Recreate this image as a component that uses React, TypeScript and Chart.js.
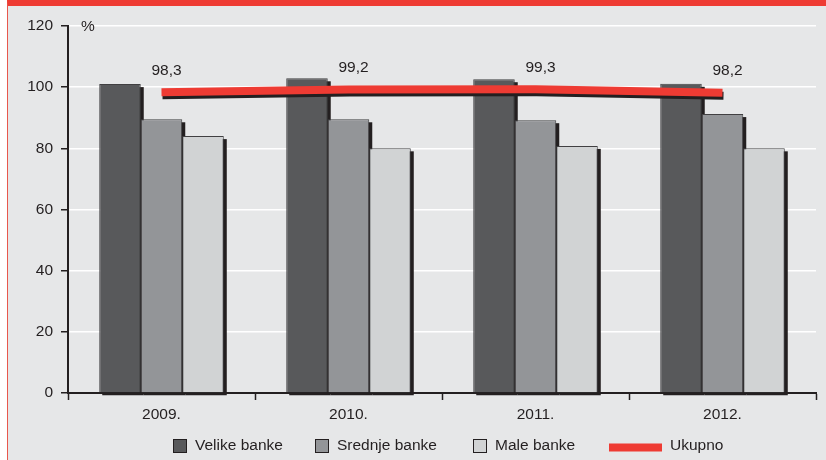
import React, { useEffect, useRef } from "react";
import { Chart, registerables } from "chart.js";

Chart.register(...registerables);

const categories = ["2009.", "2010.", "2011.", "2012."];
const velikeBanke = [101.0, 102.9, 102.6, 101.1];
const srednjeBanke = [89.5, 89.5, 89.2, 91.2];
const maleBanke = [84.0, 80.0, 80.8, 80.0];
const ukupno = [98.3, 99.2, 99.3, 98.2];
const seriesNames = ["Velike banke", "Srednje banke", "Male banke", "Ukupno"];
const yUnit = "%";

const FONT = "Liberation Sans, Arial, sans-serif";
const TXT = "#231f20";
const C_VELIKE = "#58595b";
const C_SREDNJE = "#939598";
const C_MALE = "#d1d3d4";
const C_RED = "#ee3b33";
const BORDER = "#414042";
const LEGEND_X = [173, 315, 473, 609];

const decorPlugin = {
  id: "decor",
  beforeDatasetsDraw(chart: any) {
    const ctx = chart.ctx;
    ctx.save();
    ctx.fillStyle = TXT;
    chart.data.datasets.forEach((ds: any, i: number) => {
      if (ds.type === "line") return;
      const meta = chart.getDatasetMeta(i);
      meta.data.forEach((el: any) => {
        const w = el.width;
        ctx.fillRect(el.x - w / 2 + 3, el.y + 3, w, el.base - el.y);
      });
    });
    ctx.restore();
  },
  beforeDatasetDraw(chart: any, args: any) {
    const ds = chart.data.datasets[args.index];
    if (ds.type === "line") {
      const ctx = chart.ctx;
      ctx.save();
      ctx.shadowColor = TXT;
      ctx.shadowOffsetX = 1;
      ctx.shadowOffsetY = 3;
      ctx.shadowBlur = 0;
    }
  },
  afterDatasetDraw(chart: any, args: any) {
    const ds = chart.data.datasets[args.index];
    if (ds.type === "line") {
      chart.ctx.restore();
    }
  },
  afterDraw(chart: any) {
    const ctx = chart.ctx;
    ctx.save();
    ctx.font = `15.5px ${FONT}`;
    ctx.fillStyle = TXT;
    ctx.textBaseline = "middle";
    const li = chart.data.datasets.findIndex((d: any) => d.type === "line");
    const lmeta = chart.getDatasetMeta(li);
    ctx.textAlign = "center";
    lmeta.data.forEach((pt: any, j: number) => {
      const v = chart.data.datasets[li].data[j];
      ctx.fillText(v.toFixed(1).replace(".", ","), pt.x + 5, pt.y - 22);
    });
    ctx.textAlign = "left";
    ctx.fillText(yUnit, chart.chartArea.left + 13, chart.chartArea.top + 1);
    const colors = [C_VELIKE, C_SREDNJE, C_MALE];
    const yc = 446;
    seriesNames.forEach((name, i) => {
      let x = LEGEND_X[i];
      if (i < 3) {
        ctx.fillStyle = colors[i];
        ctx.fillRect(x, yc - 7, 14, 14);
        ctx.strokeStyle = TXT;
        ctx.lineWidth = 1;
        ctx.strokeRect(x + 0.5, yc - 6.5, 13, 13);
        x += 14 + 8;
      } else {
        ctx.fillStyle = C_RED;
        ctx.fillRect(x, yc - 2.5, 53, 8);
        x += 53 + 8;
      }
      ctx.fillStyle = TXT;
      ctx.fillText(name, x, yc);
    });
    ctx.restore();
  },
};

export default function App() {
  const ref = useRef<HTMLCanvasElement | null>(null);
  useEffect(() => {
    if (!ref.current) return;
    const barCommon = {
      borderColor: BORDER,
      borderWidth: 1,
      categoryPercentage: 0.666,
      barPercentage: 1,
      clip: false,
    };
    const chart = new Chart(ref.current, {
      type: "bar",
      data: {
        labels: categories,
        datasets: [
          { type: "bar", label: seriesNames[0], data: velikeBanke, backgroundColor: C_VELIKE, ...barCommon } as any,
          { type: "bar", label: seriesNames[1], data: srednjeBanke, backgroundColor: C_SREDNJE, ...barCommon } as any,
          { type: "bar", label: seriesNames[2], data: maleBanke, backgroundColor: C_MALE, ...barCommon } as any,
          {
            type: "line",
            label: seriesNames[3],
            data: ukupno,
            borderColor: C_RED,
            backgroundColor: C_RED,
            borderWidth: 8,
            borderCapStyle: "butt",
            pointRadius: 0,
            tension: 0,
            order: -1,
            clip: false,
          } as any,
        ],
      },
      options: {
        responsive: false,
        animation: false,
        devicePixelRatio: 1,
        layout: { padding: { top: 26, right: 10, left: 0, bottom: 0 } },
        plugins: { legend: { display: false }, tooltip: { enabled: false } },
        scales: {
          x: {
            offset: true,
            grid: {
              display: true,
              drawOnChartArea: false,
              drawTicks: true,
              tickLength: 7,
              tickColor: TXT,
              tickWidth: 1.5,
              offset: true,
            },
            border: { display: true, color: TXT, width: 2 },
            ticks: { color: TXT, font: { family: FONT, size: 15.5 }, padding: 5 },
            afterFit: (s: any) => {
              s.height = 67;
            },
          },
          y: {
            min: 0,
            max: 120,
            ticks: { stepSize: 20, color: TXT, font: { family: FONT, size: 15.5 }, padding: 8 },
            grid: {
              color: "#ffffff",
              lineWidth: 1.5,
              drawTicks: true,
              tickLength: 7,
              tickColor: TXT,
              tickWidth: 1.5,
            },
            border: { display: true, color: TXT, width: 2 },
            afterFit: (s: any) => {
              s.width = 68;
            },
          },
        },
      } as any,
      plugins: [decorPlugin],
    });
    return () => chart.destroy();
  }, []);

  return (
    <div style={{ position: "fixed", left: 0, top: 0, width: 826, height: 460, background: "#ffffff" }}>
      <div
        style={{
          position: "absolute",
          left: 7,
          top: 0,
          width: 819,
          height: 460,
          boxSizing: "border-box",
          background: "#e6e7e8",
          borderLeft: "1px solid #e8574d",
          borderTop: "6px solid " + C_RED,
        }}
      />
      <canvas ref={ref} width={826} height={460} style={{ position: "absolute", left: 0, top: 0, width: 826, height: 460 }} />
    </div>
  );
}
